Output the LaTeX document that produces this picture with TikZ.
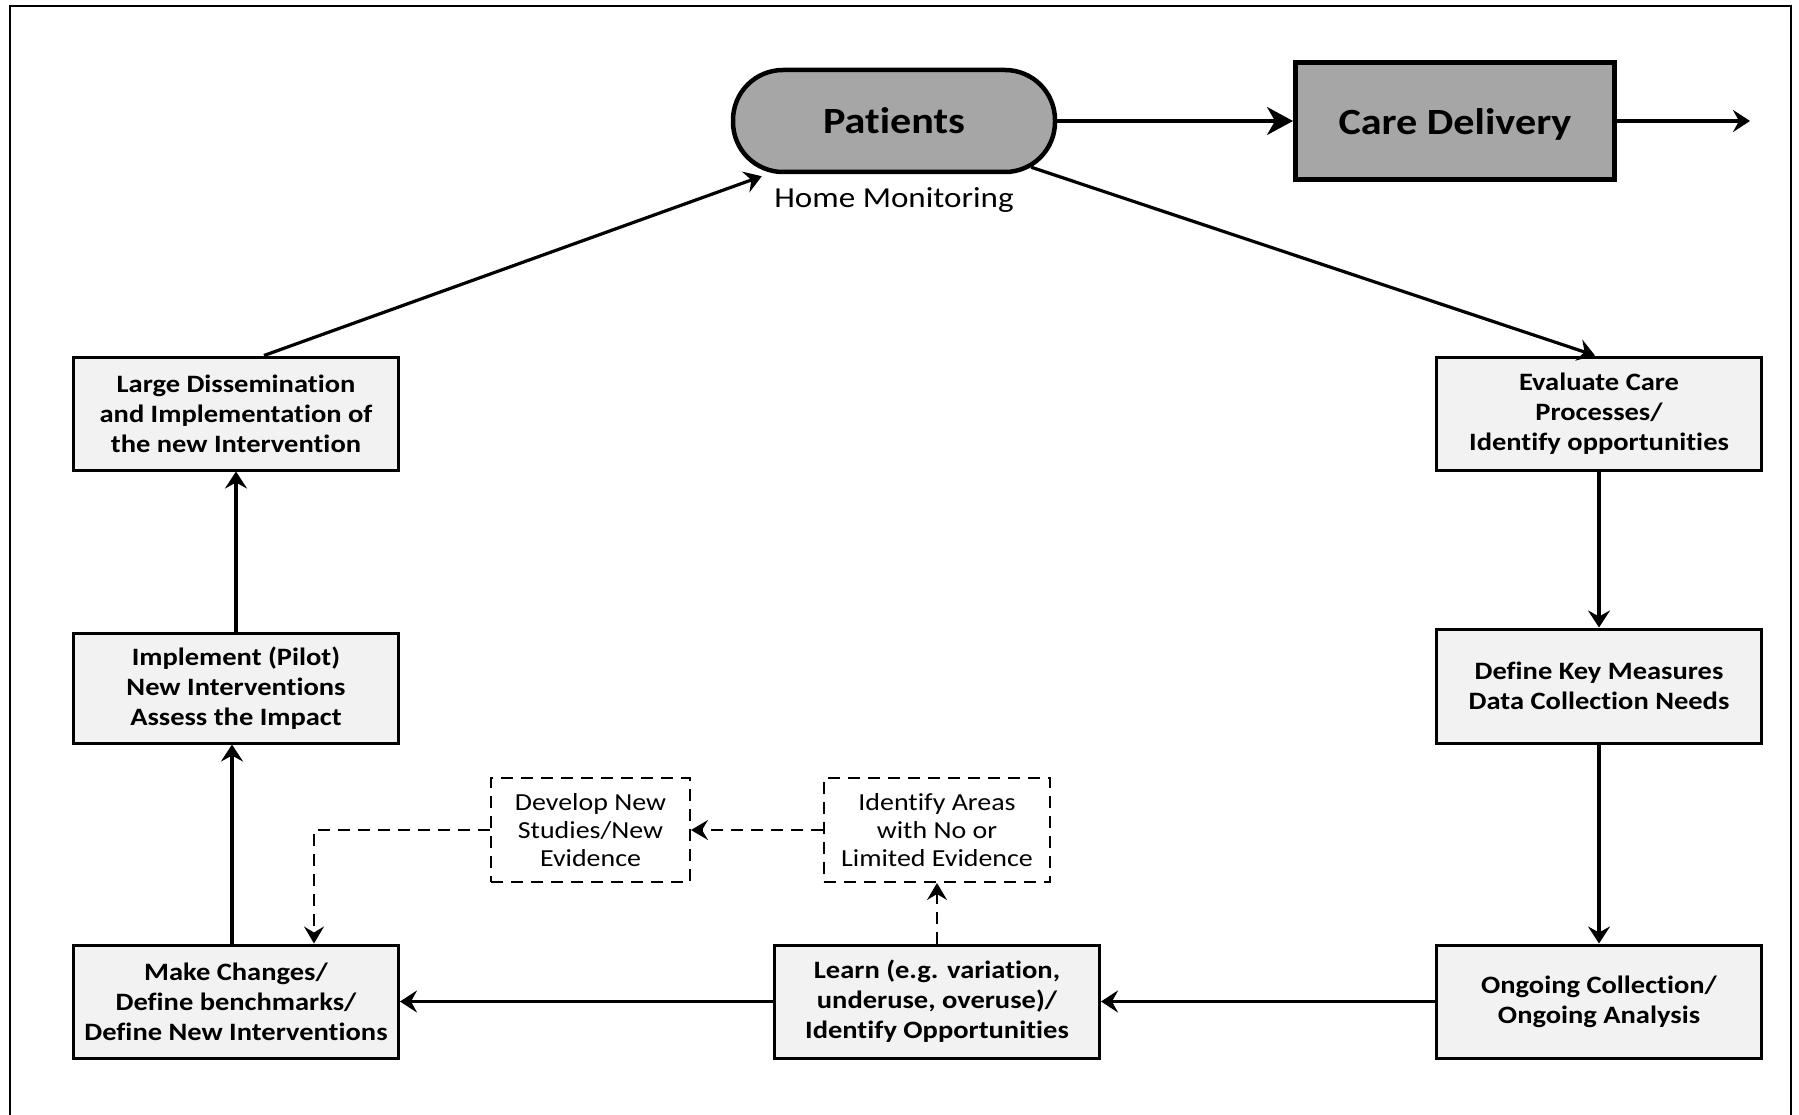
\documentclass[tikz,border=0pt]{standalone}
\usepackage{fontspec}
\setmainfont{Carlito}[FakeStretch=1.14,Ligatures=NoCommon]
\usetikzlibrary{arrows.meta}
\definecolor{boxfill}{HTML}{F2F2F2}
\definecolor{darkfill}{HTML}{A6A6A6}
\begin{document}
\begin{tikzpicture}[x=1pt,y=-1pt,
  procbox/.style={draw=black, line width=3pt, fill=boxfill, minimum width=325pt, align=center,
    font=\fontsize{25}{30}\selectfont\bfseries, inner sep=0pt},
  dashbox/.style={draw=black, line width=2pt, dash pattern=on 12pt off 8pt, fill=white, align=center,
    font=\fontsize{24.5}{28}\selectfont, inner sep=0pt, minimum height=104pt},
  flow/.style={line width=3.2pt, -{Stealth[length=17pt,width=22pt,inset=6pt]}},
  dflow/.style={line width=2pt, dash pattern=on 12pt off 8pt, -{Stealth[length=17pt,width=20pt,inset=6pt]}},
  bigflow/.style={line width=3.2pt, -{Stealth[length=26pt,width=28pt,inset=8pt]}}
]
\useasboundingbox (0,0) rectangle (1799,1115);
% frame
\draw[line width=2pt] (10,1115) -- (10,6) -- (1791,6) -- (1791,1115);

% top row
\node[draw=black, line width=4.5pt, fill=darkfill, rounded corners=50pt, minimum width=322pt, minimum height=102pt,
  font=\fontsize{37}{42}\selectfont\bfseries] (pat) at (894,121) {Patients};
\node[draw=black, line width=5pt, fill=darkfill, minimum width=319pt, minimum height=117pt,
  font=\fontsize{37}{42}\selectfont\bfseries] (care) at (1455,121) {\smash{\raisebox{-14pt}{Care Delivery}}};
\node[font=\fontsize{29}{33}\selectfont] (home) at (894,200) {Home Monitoring};
\coordinate (out) at (1750,121);

% left column
\node[procbox, minimum height=113pt] (ld) at (236,413.5) {Large Dissemination\\and Implementation of\\the new Intervention};
\node[procbox, minimum height=110pt] (imp) at (236,688) {Implement (Pilot)\\New Interventions\\Assess the Impact};
\node[procbox, minimum height=113pt] (mk) at (236,1001.5) {Make Changes/\\Define benchmarks/\\Define New Interventions};

% right column
\node[procbox, minimum height=113pt] (ev) at (1599,413.5) {Evaluate Care\\Processes/\\Identify opportunities};
\node[procbox, minimum height=114pt] (dk) at (1599,686) {Define Key Measures\\Data Collection Needs};
\node[procbox, minimum height=113pt] (og) at (1599,1001.5) {Ongoing Collection/\\Ongoing Analysis};

% bottom middle
\node[procbox, minimum height=113pt] (lr) at (937,1001.5) {Learn (e.g. variation,\\underuse, overuse)/\\Identify Opportunities};

% dashed boxes
\node[dashbox, minimum width=199pt] (dev) at (590.5,830) {Develop New\\Studies/New\\Evidence};
\node[dashbox, minimum width=226pt] (ia) at (937,830) {Identify Areas\\with No or\\Limited Evidence};

% connectors
\draw[bigflow] (pat.east) -- (care.west);
\draw[flow] (care.east) -- (out);
\draw[flow] ([xshift=28pt]ld.north) -- ([xshift=31pt,yshift=-2pt]pat.south west);
\draw[flow] ([xshift=-26pt,yshift=7pt]pat.south east) -- ([xshift=-4pt]ev.north);
\draw[flow] (ev.south) -- (dk.north);
\draw[flow] (dk.south) -- (og.north);
\draw[flow] (og.west) -- (lr.east);
\draw[flow] (lr.west) -- (mk.east);
\draw[flow] ([xshift=-4pt]mk.north) -- ([xshift=-4pt]imp.south);
\draw[flow] (imp.north) -- (ld.south);
\draw[dflow] (lr.north) -- (ia.south);
\draw[dflow] (ia.west) -- (dev.east);
\draw[dflow] (dev.west) -| ([xshift=78pt]mk.north);
\end{tikzpicture}
\end{document}
